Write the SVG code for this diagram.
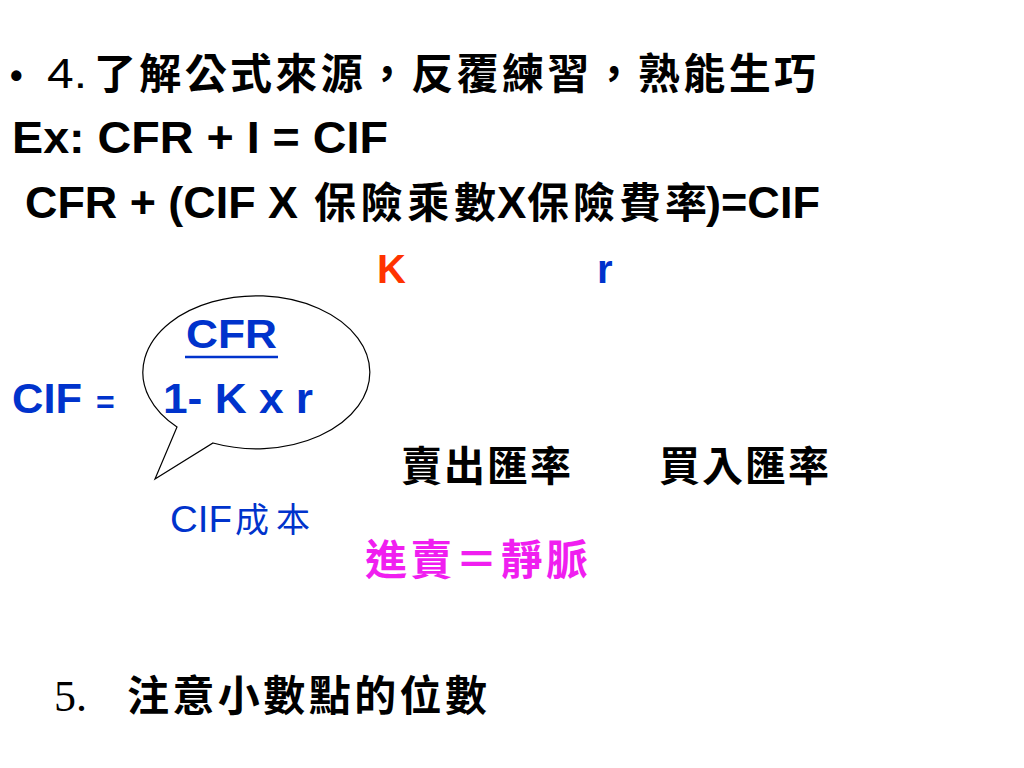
<svg xmlns="http://www.w3.org/2000/svg" width="1024" height="768" viewBox="0 0 1024 768">
<style>
.lat{font-family:"Liberation Sans",Arial,sans-serif;font-weight:bold;}
.cjk{font-family:"Noto Sans CJK TC","Noto Sans CJK SC",serif;font-weight:bold;}
.blk{fill:#000000;}
.blu{fill:#0033CC;}
</style>
<rect width="1024" height="768" fill="#FFFFFF"/>
<g id="title">
<text x="10" y="88" class="lat blk" font-size="36" font-weight="normal">•</text>
<text x="47" y="88" font-family="'Liberation Sans',Arial,sans-serif" font-size="42" fill="#000" textLength="40" lengthAdjust="spacingAndGlyphs">4.</text>
<text x="94" y="89" class="cjk blk" font-size="42" textLength="722" lengthAdjust="spacing">了解公式來源，反覆練習，熟能生巧</text>
</g>
<g id="ex-line">
<text x="12" y="153" class="lat blk" font-size="44" textLength="376" lengthAdjust="spacingAndGlyphs">Ex:  CFR + I = CIF</text>
</g>
<g id="formula-line">
<text y="218" class="blk" font-size="44"><tspan x="25" class="lat" textLength="273" lengthAdjust="spacingAndGlyphs">CFR + (CIF X</tspan><tspan x="314" class="cjk" font-size="42" font-weight="normal" textLength="182" lengthAdjust="spacing">保險乘數</tspan><tspan x="497" class="lat">X</tspan><tspan x="527" class="cjk" font-size="42" font-weight="normal" textLength="180" lengthAdjust="spacing">保險費率</tspan><tspan x="706" class="lat" textLength="114" lengthAdjust="spacingAndGlyphs">)=CIF</tspan></text>
</g>
<g id="K-label">
<text x="377" y="283" class="lat" font-size="40" fill="#FF3300">K</text>
</g>
<g id="r-label">
<text x="597" y="283" class="lat" font-size="40" fill="#0033CC">r</text>
</g>
<g id="bubble">
<path d="M177,427 A113.5,76.5 0 1 1 213,443 L155,479 Z" fill="#FFFFFF" stroke="#000000" stroke-width="1.2"/>
<text x="186" y="348" class="lat blu" font-size="40" textLength="91" lengthAdjust="spacingAndGlyphs">CFR</text>
<line x1="185" y1="357" x2="278" y2="357" stroke="#0033CC" stroke-width="2.5"/>
<text x="163" y="413" class="lat blu" font-size="42" textLength="150" lengthAdjust="spacingAndGlyphs">1- K x r</text>
</g>
<g id="cif-eq">
<text y="413" class="lat blu"><tspan x="12" font-size="42" textLength="70" lengthAdjust="spacingAndGlyphs">CIF</tspan><tspan x="96" font-size="32">=</tspan></text>
</g>
<g id="cif-cost">
<text y="532" fill="#0033CC"><tspan x="170" font-family="'Liberation Sans',Arial,sans-serif" font-size="37" textLength="62" lengthAdjust="spacingAndGlyphs">CIF</tspan><tspan x="235" font-family="'Noto Sans CJK TC',sans-serif" font-size="34" textLength="75" lengthAdjust="spacing">成本</tspan></text>
</g>
<g id="sell-rate">
<text x="401" y="481" class="cjk blk" font-size="41" textLength="170" lengthAdjust="spacing">賣出匯率</text>
</g>
<g id="buy-rate">
<text x="659" y="481" class="cjk blk" font-size="41" textLength="170" lengthAdjust="spacing">買入匯率</text>
</g>
<g id="mnemonic">
<text x="365" y="575" class="cjk" font-size="42" fill="#F01EF0" textLength="223" lengthAdjust="spacing">進賣＝靜脈</text>
</g>
<g id="point5">
<text x="54" y="711" font-family="'Liberation Serif',serif" font-size="44" fill="#000">5.</text>
<text x="127" y="711" class="cjk blk" font-size="42" textLength="360" lengthAdjust="spacing">注意小數點的位數</text>
</g>
</svg>
